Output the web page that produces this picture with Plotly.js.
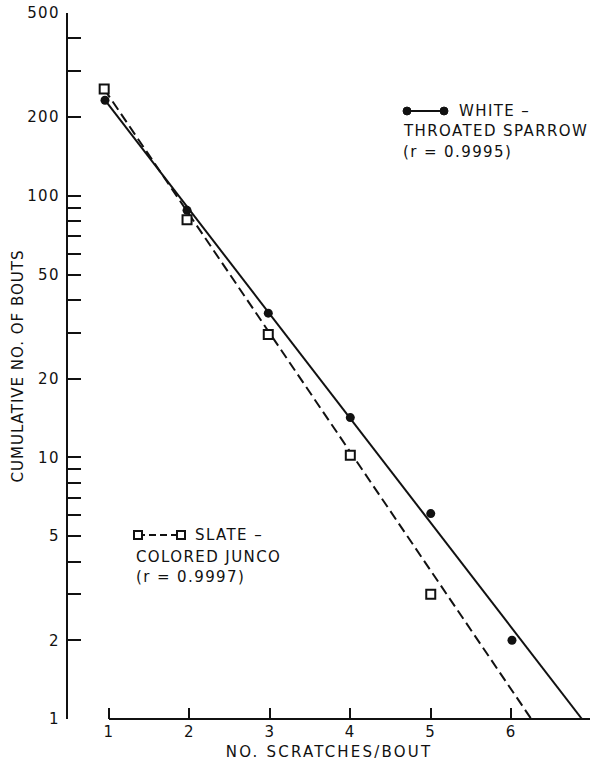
<!DOCTYPE html>
<html><head><meta charset="utf-8">
<script src="https://cdn.plot.ly/plotly-3.0.1.min.js"></script>
<style>
html,body{margin:0;padding:0;background:#fff}
#chart{width:591px;height:764px}
#chart svg text{letter-spacing:1.4px}
#chart .g-xtitle text{letter-spacing:2.2px}
#chart .g-ytitle text{letter-spacing:1.0px}
</style>
</head><body><div id="chart"></div>
<script>
// Data
const sparrowScratches = [0.95, 1.97, 2.98, 4, 5, 6.01];
const sparrowBouts     = [232, 88, 35.6, 14.2, 6.1, 2.0];
const juncoScratches   = [0.94, 1.97, 2.98, 4, 5];
const juncoBouts       = [256, 81, 29.5, 10.2, 3.0];
const sparrowFitX = [0.95, 6.88];
const sparrowFitY = [232, 1];
const juncoFitX   = [0.94, 6.25];
const juncoFitY   = [256, 1];
const xTickVals = [1, 2, 3, 4, 5, 6];
const yMajor = [1, 2, 5, 10, 20, 50, 100, 200, 500];
const yMinor = [3, 4, 6, 7, 8, 9, 30, 40, 60, 70, 80, 90, 300, 400];

const INK = '#111';
const FONT = 'DejaVu Sans';
const W = 591, H = 764;
const M = {l: 68, r: 1, t: 13, b: 45};
const px = x => (x - M.l) / (W - M.l - M.r);
const py = y => (H - M.b - y) / (H - M.t - M.b);

const yVals = yMajor.concat(yMinor).sort((a, b) => a - b);
const yText = yVals.map(v => yMajor.includes(v) ? String(v) : '');

const traces = [
  {x: sparrowFitX, y: sparrowFitY, mode: 'lines', line: {color: INK, width: 2}, hoverinfo: 'skip', showlegend: false},
  {x: juncoFitX, y: juncoFitY, mode: 'lines', line: {color: INK, width: 2, dash: '10px,5px'}, hoverinfo: 'skip', showlegend: false},
  {x: sparrowScratches, y: sparrowBouts, mode: 'markers', name: 'White-throated sparrow',
   marker: {symbol: 'circle', size: 9, color: INK}, showlegend: false},
  {x: juncoScratches, y: juncoBouts, mode: 'markers', name: 'Slate-colored junco',
   marker: {symbol: 'square', size: 9, color: '#fff', line: {color: INK, width: 2}}, showlegend: false}
];

function dot(xp, yp) {
  return {type: 'circle', xref: 'paper', yref: 'paper', xsizemode: 'pixel', ysizemode: 'pixel',
    xanchor: px(xp), yanchor: py(yp), x0: -4, x1: 4, y0: -4, y1: 4,
    fillcolor: INK, line: {color: INK, width: 1}};
}
function box(xp, yp) {
  return {type: 'rect', xref: 'paper', yref: 'paper', xsizemode: 'pixel', ysizemode: 'pixel',
    xanchor: px(xp), yanchor: py(yp), x0: -4, x1: 4, y0: -4, y1: 4,
    fillcolor: '#fff', line: {color: INK, width: 2}};
}
function seg(x0, x1, y, dash) {
  return {type: 'line', xref: 'paper', yref: 'paper', x0: px(x0), x1: px(x1), y0: py(y), y1: py(y),
    line: {color: INK, width: 2, dash: dash || 'solid'}};
}

const shapes = [
  // x axis line starting at x = 1
  {type: 'line', xref: 'x', yref: 'paper', x0: 1, x1: 6.98, y0: 0, y1: 0, line: {color: INK, width: 2}},
  seg(407, 444, 111), dot(407, 111), dot(444, 111),
  seg(138, 181, 535, '7px,4px'), box(138, 535), box(181, 535)
];

function note(text, xp, yp) {
  return {text: text, xref: 'paper', yref: 'paper', x: px(xp), y: py(yp), xanchor: 'left', yanchor: 'middle',
    align: 'left', showarrow: false, font: {family: FONT, size: 15, color: INK}};
}
const annotations = [
  note('WHITE –', 457, 111),
  note('THROATED SPARROW', 401, 131),
  note('(r = 0.9995)', 401, 152),
  note('SLATE –', 193, 535),
  note('COLORED JUNCO', 134, 557),
  note('(r = 0.9997)', 134, 577)
];

const layout = {
  width: W, height: H, margin: M,
  paper_bgcolor: '#fff', plot_bgcolor: '#fff',
  font: {family: FONT, size: 15, color: INK},
  showlegend: false,
  xaxis: {
    range: [0.49, 6.98], showgrid: false, zeroline: false, showline: false,
    tickmode: 'array', tickvals: xTickVals, ticks: 'inside', ticklen: 11, tickwidth: 2, tickcolor: INK,
    tickfont: {family: FONT, size: 15, color: INK}, ticklabelstandoff: 2,
    title: {text: 'NO. SCRATCHES/BOUT', font: {family: FONT, size: 15, color: INK}, standoff: 6},
    automargin: false
  },
  yaxis: {
    type: 'log', range: [0, Math.log10(500)], showgrid: false, zeroline: false,
    showline: true, linecolor: INK, linewidth: 2,
    tickmode: 'array', tickvals: yVals, ticktext: yText, ticks: 'inside', ticklen: 13, tickwidth: 2, tickcolor: INK,
    tickfont: {family: FONT, size: 15, color: INK}, ticklabelstandoff: 3,
    title: {text: 'CUMULATIVE NO. OF BOUTS', font: {family: FONT, size: 15, color: INK}, standoff: 4},
    automargin: false
  },
  shapes: shapes,
  annotations: annotations
};

Plotly.newPlot('chart', traces, layout, {staticPlot: true, displayModeBar: false});
</script></body></html>
